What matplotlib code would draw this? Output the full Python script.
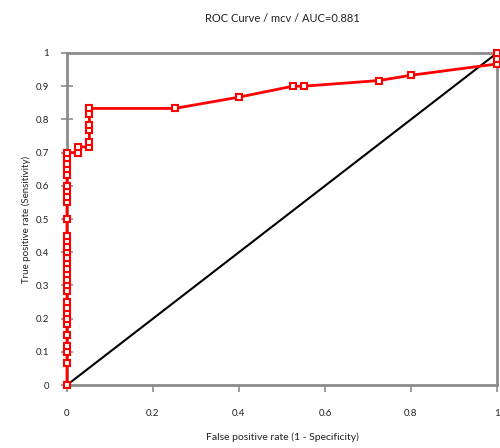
import numpy as np
import matplotlib
matplotlib.use('Agg')
import matplotlib.pyplot as plt

plt.rcParams['font.family'] = ['Lato', 'DejaVu Sans']

# ROC points (false positive rate, true positive rate)
fpr = [0, 0, 0, 0, 0, 0, 0, 0, 0, 0, 0, 0, 0, 0, 0, 0, 0, 0, 0, 0, 0,
       0, 0, 0, 0, 0, 0, 0, 0, 0, 0,
       0.026, 0.026, 0.052, 0.052, 0.052, 0.052, 0.052, 0.052,
       0.25, 0.40, 0.525, 0.55, 0.725, 0.80, 1.0, 1.0, 1.0]
tpr = [0, 0.067, 0.10, 0.117, 0.15, 0.183, 0.20, 0.217, 0.233, 0.25,
       0.283, 0.30, 0.317, 0.333, 0.35, 0.367, 0.383, 0.40, 0.417, 0.433,
       0.45, 0.50, 0.55, 0.567, 0.583, 0.60, 0.633, 0.65, 0.667, 0.683, 0.70,
       0.70, 0.717, 0.717, 0.733, 0.767, 0.783, 0.817, 0.833,
       0.833, 0.867, 0.90, 0.90, 0.917, 0.933, 0.967, 0.983, 1.0]
diag = [0, 1]

fig = plt.figure(figsize=(5, 4.48), dpi=100)
ax = fig.add_axes([0.134, 0.1406, 0.86, 0.7411])

ax.plot(diag, diag, color='black', lw=1.5, zorder=2)
ax.plot(fpr, tpr, color='red', lw=2, marker='s', ms=4, mfc='white',
        mec='red', mew=1.5, zorder=3, clip_on=False)

ax.set_xlim(0, 1)
ax.set_ylim(0, 1)
ax.set_xticks(np.arange(0, 1.01, 0.2))
ax.set_xticklabels(['0', '0.2', '0.4', '0.6', '0.8', '1'])
ax.set_yticks(np.arange(0, 1.01, 0.1))
ax.set_yticklabels(['0', '0.1', '0.2', '0.3', '0.4', '0.5', '0.6', '0.7',
                    '0.8', '0.9', '1'])

for s in ax.spines.values():
    s.set_color('#8c8c8c')
    s.set_linewidth(2)

ax.tick_params(axis='y', direction='inout', length=8, width=1.2,
               color='#8c8c8c', labelsize=7, labelcolor='#222222', pad=9)
ax.tick_params(axis='x', direction='out', length=5, width=1.2,
               color='#8c8c8c', labelsize=7, labelcolor='#222222', pad=12)

ax.set_title('ROC Curve / mcv / AUC=0.881', fontsize=8, color='#222222',
             pad=22)
ax.set_xlabel('False positive rate (1 - Specificity)', fontsize=7.5,
              color='#222222', labelpad=11)
ax.set_ylabel('True positive rate (Sensitivity)', fontsize=7,
              color='#222222', labelpad=3)

fig.savefig('out.png', dpi=100)
